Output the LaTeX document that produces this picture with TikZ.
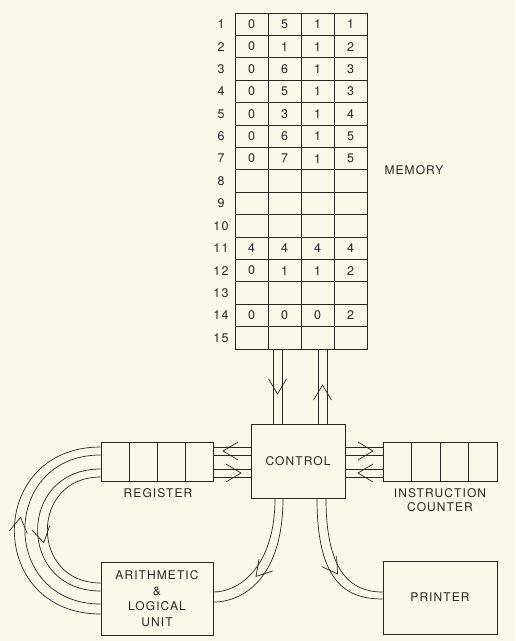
\documentclass[tikz,border=0pt]{standalone}
\usepackage{fontspec}
\setmainfont{TeX Gyre Heros}[LetterSpace=9]
\usetikzlibrary{positioning, calc, decorations.markings}

\definecolor{paper}{RGB}{250,248,233}
\definecolor{ink}{RGB}{40,38,34}

\tikzset{
  box/.style={draw=ink, line width=0.8pt, inner sep=0pt},
  cell/.style={box, minimum width=33pt, minimum height=22.4pt, text=ink,
    font=\fontsize{12.5}{14}\selectfont},
  regcell/.style={box, minimum width=28pt, minimum height=39pt},
  wire/.style={draw=ink, line width=0.7pt},
  lbl/.style={text=ink, font=\fontsize{12}{15.5}\selectfont, align=center},
  flow/.style={postaction={decorate}, decoration={markings,
      mark=at position #1 with {\draw[wire] (-15,9) -- (0,0) -- (-15,-9);}}}
}

\begin{document}
\begin{tikzpicture}[x=1pt, y=-1pt]
    \useasboundingbox (0,0) rectangle (515,641);
    \fill[paper] (0,0) rectangle (515,641);

    % Memory
    \foreach \row/\pa/\pb/\pc/\pd in {1/0/5/1/1, 2/0/1/1/2, 3/0/6/1/3, 4/0/5/1/3,
        5/0/3/1/4, 6/0/6/1/5, 7/0/7/1/5, 8/{}/{}/{}/{}, 9/{}/{}/{}/{},
        10/{}/{}/{}/{}, 11/4/4/4/4, 12/0/1/1/2, 13/{}/{}/{}/{},
        14/0/0/0/2, 15/{}/{}/{}/{}} {
        \node[lbl, font=\fontsize{12.5}{14}\selectfont] (n\row) at (221, {1.8+22.4*\row}) {\row};
        \foreach \v [count=\k] in {\pa,\pb,\pc,\pd}
            \node[cell] (m\row-\k) at ({218.5+33*\k}, {1.8+22.4*\row}) {\v};
    }
    \node[lbl] (memlbl) at (414,170) {MEMORY};

    % Control
    \node[box, lbl, minimum width=94pt, minimum height=74pt] (ctrl) at (298,461) {CONTROL};

    % Register and instruction counter
    \foreach \k in {1,...,4}
        \node[regcell] (reg\k) at ({87+28*\k}, 462) {};
    \node[lbl] (reglbl) at (158,493) {REGISTER};
    \foreach \k in {1,...,4}
        \node[regcell, minimum width=28.5pt] (ic\k) at ({368.75+28.5*\k}, 462) {};
    \node[lbl, font=\fontsize{12}{13.5}\selectfont] (iclbl) at (440,500) {INSTRUCTION\\COUNTER};

    % ALU and printer
    \node[box, lbl, minimum width=112pt, minimum height=73pt] (alu) at (157,598.5)
        {ARITHMETIC\\\&\\LOGICAL\\UNIT};
    \node[box, lbl, minimum width=114pt, minimum height=73pt] (prn) at (440,597.5) {PRINTER};

    % Memory <-> control
    \draw[wire] ([xshift=-25pt]ctrl.north) -- ([xshift=-25pt]ctrl.north |- m15-2.south);
    \draw[wire] ([xshift=-16pt]ctrl.north) -- ([xshift=-16pt]ctrl.north |- m15-2.south);
    \path[flow=0.6] ([xshift=-20.5pt]ctrl.north |- m15-2.south) -- ([xshift=-20.5pt]ctrl.north);
    \draw[wire] ([xshift=20pt]ctrl.north) -- ([xshift=20pt]ctrl.north |- m15-3.south);
    \draw[wire] ([xshift=29pt]ctrl.north) -- ([xshift=29pt]ctrl.north |- m15-3.south);
    \path[flow=0.52] ([xshift=24.5pt]ctrl.north) -- ([xshift=24.5pt]ctrl.north |- m15-3.south);

    % Register <-> control <-> counter
    \foreach \dy in {15,7,-7,-15} {
        \draw[wire] ([yshift=\dy pt]reg4.east) -- ([yshift=\dy pt]reg4.east -| ctrl.west);
        \draw[wire] ([yshift=\dy pt]ic1.west) -- ([yshift=\dy pt]ic1.west -| ctrl.east);
    }
    \path[flow=0.74] ([yshift=11pt]reg4.east -| ctrl.west) -- ([yshift=11pt]reg4.east);
    \path[flow=0.74] ([yshift=-11pt]reg4.east) -- ([yshift=-11pt]reg4.east -| ctrl.west);
    \path[flow=0.74] ([yshift=11pt]ic1.west -| ctrl.east) -- ([yshift=11pt]ic1.west);
    \path[flow=0.66] ([yshift=-11pt]ic1.west) -- ([yshift=-11pt]ic1.west -| ctrl.east);

    % Register <-> ALU
    \draw[wire] ([yshift=15pt]reg1.west) .. controls +(-115,0) and +(-115,0) .. ([yshift=-15.5pt]alu.west);
    \draw[wire] ([yshift=7pt]reg1.west) .. controls +(-101,0) and +(-101,0) .. ([yshift=-5.5pt]alu.west);
    \path[flow=0.55] ([yshift=-10.5pt]alu.west) .. controls +(-108,0) and +(-108,0) .. ([yshift=11pt]reg1.west);
    \draw[wire] ([yshift=-7pt]reg1.west) .. controls +(-84,0) and +(-84,0) .. ([yshift=7.5pt]alu.west);
    \draw[wire] ([yshift=-15pt]reg1.west) .. controls +(-71,0) and +(-71,0) .. ([yshift=15.5pt]alu.west);
    \path[flow=0.57] ([yshift=-11pt]reg1.west) .. controls +(-77.5,0) and +(-77.5,0) .. ([yshift=11.5pt]alu.west);

    % Control -> ALU
    \draw[wire] ([xshift=-23pt]ctrl.south) .. controls +(0,67) and +(27,0) .. ([yshift=6.5pt]alu.east);
    \draw[wire] ([xshift=-15pt]ctrl.south) .. controls +(0,77) and +(32,0) .. ([yshift=-3.5pt]alu.east);
    \path[flow=0.63] ([xshift=-19pt]ctrl.south) .. controls +(0,72) and +(30,0) .. ([yshift=1.5pt]alu.east);

    % Control -> printer
    \draw[wire] ([xshift=19pt]ctrl.south) .. controls +(0,82) and +(-38,0) .. ([yshift=-1.5pt]prn.west);
    \draw[wire] ([xshift=28pt]ctrl.south) .. controls +(0,72) and +(-33,0) .. ([yshift=5.5pt]prn.west);
    \path[flow=0.6] ([xshift=23.5pt]ctrl.south) .. controls +(0,77) and +(-35,0) .. ([yshift=2pt]prn.west);

\end{tikzpicture}
\end{document}
